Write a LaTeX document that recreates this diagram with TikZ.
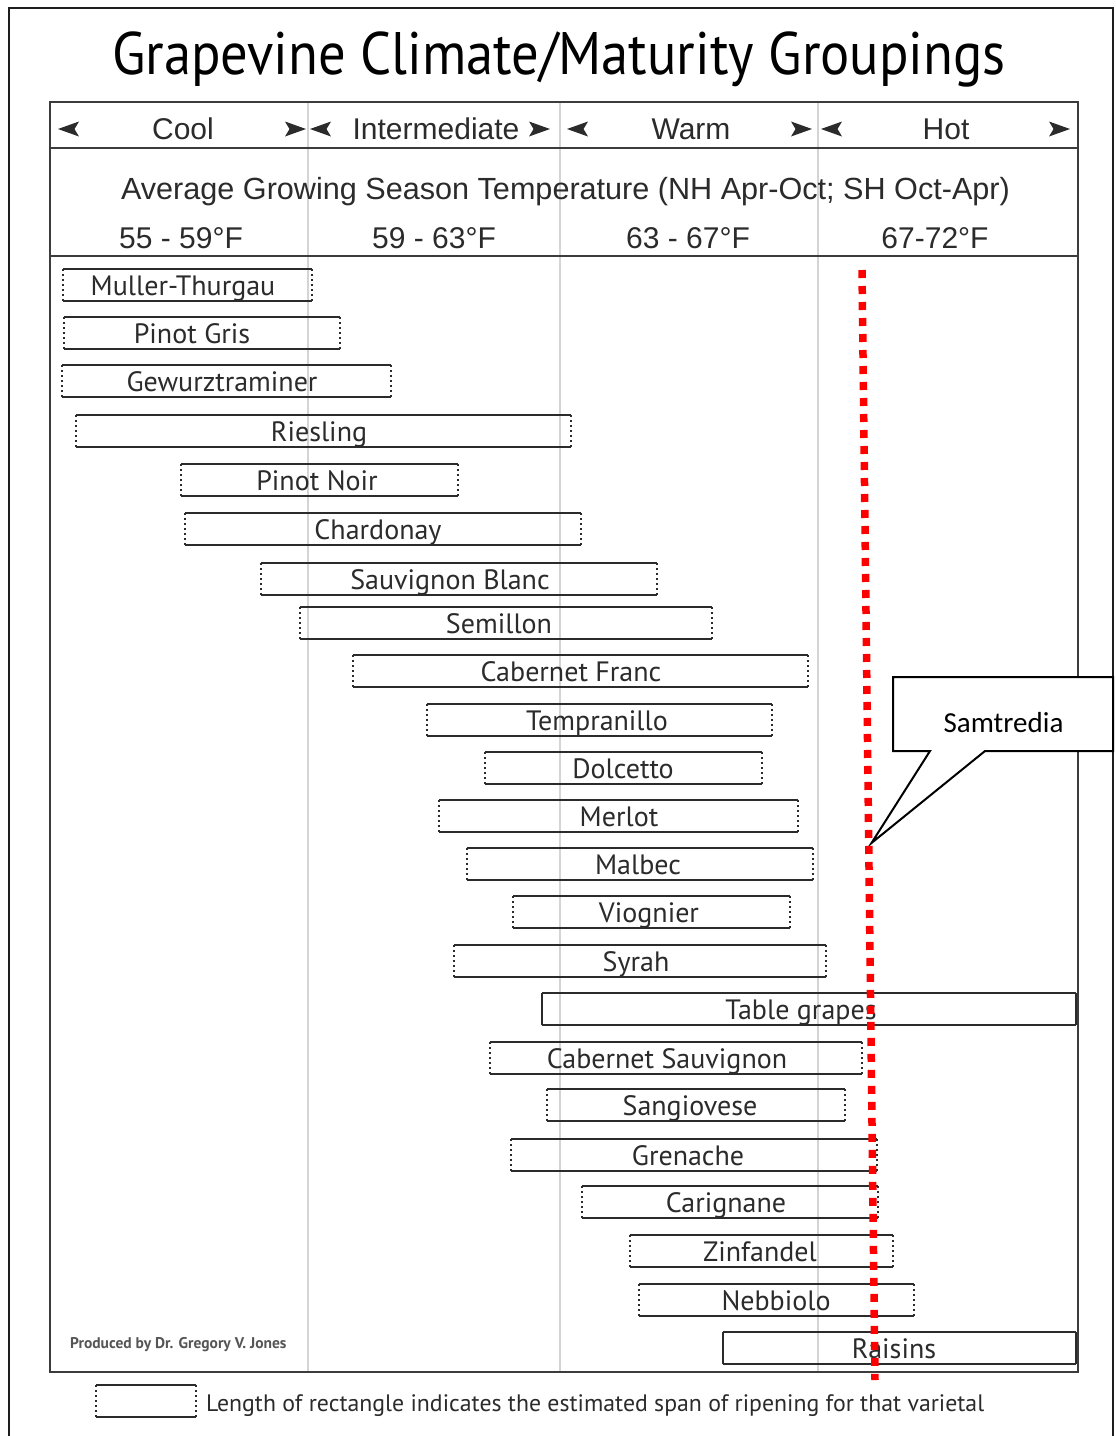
\documentclass[tikz,border=0pt]{standalone}
\usepackage{fontspec}
\setmainfont{PT Sans}
\newfontfamily\titlef[FakeStretch=0.91]{PT Sans}
\newfontfamily\arialf{Liberation Sans}
\newfontfamily\calibrif{Carlito}
\definecolor{ink}{HTML}{2B2B2B}
\definecolor{gridc}{HTML}{D4D4D4}
\definecolor{framec}{HTML}{3C3C3C}
\definecolor{outerc}{HTML}{1E1E1E}
\newcommand\grapebar[7]{%
  \node[barbox, minimum width={(#3)-(#2)}, anchor=north west] (#1) at (#2,#4) {};
  \node[bartext] (#1t) at (#5,#4+26) {#6};
  \draw[edgeline] (#1.north west) -- (#1.north east) (#1.south west) -- (#1.south east);
  \draw[#7] (#1.north west) -- (#1.south west) (#1.north east) -- (#1.south east);
}
\tikzset{
  barbox/.style={draw=none, rectangle, inner sep=0pt, outer sep=0pt, minimum height=32},
  bartext/.style={anchor=base, inner sep=0pt, font=\fontsize{28}{30}\selectfont, text=ink},
  edgeline/.style={draw=ink, line width=2},
  sidedot/.style={draw=ink, line width=2, dash pattern=on 2 off 3},
  headtext/.style={anchor=base, inner sep=0pt, font=\arialf\fontsize{30}{32}\selectfont, text=ink},
  gridline/.style={draw=gridc, line width=1.3},
  chartline/.style={draw=framec, line width=2.5},
  reddots/.style={draw=red, line width=7.5, dash pattern=on 8 off 8},
  rtip/.pic={\fill[ink] (0,0) -- (-21,-7.5) -- (-16.5,0) -- (-21,7.5) -- cycle;},
  ltip/.pic={\fill[ink] (0,0) -- (21,-7.5) -- (16.5,0) -- (21,7.5) -- cycle;},
}
\begin{document}
\begin{tikzpicture}[x=1pt,y=-1pt]
\useasboundingbox (0,0) rectangle (1116,1436);
\fill[white] (0,0) rectangle (1116,1436);
% outer frame
\draw[draw=outerc, line width=2.5] (9,1436) -- (9,8) -- (1113,8) -- (1113,1436);
% title
\node[anchor=base, inner sep=0pt, font=\titlef\fontsize{60}{64}\selectfont, text=black] (title) at (559,74) {Grapevine Climate/Maturity Groupings};
% grid
\foreach \gx in {308,560,818} \draw[gridline] (\gx,102) -- (\gx,1372);
% chart frame
\draw[chartline] (50,102) rectangle (1078,1372);
\draw[chartline] (50,148) -- (1078,148);
\draw[chartline] (50,256) -- (1078,256);
% header
\node[headtext] (cool) at (183,139) {Cool};
\node[headtext] (inter) at (436,139) {Intermediate};
\node[headtext] (warm) at (691,139) {Warm};
\node[headtext] (hot) at (946,139) {Hot};
\foreach \lx in {58,310,567,821} \pic at (\lx,129) {ltip};
\foreach \rx in {306,550,812,1070} \pic at (\rx,129) {rtip};
\node[headtext, font=\arialf\fontsize{30.6}{32}\selectfont] (avg) at (565.5,199) {Average Growing Season Temperature (NH Apr-Oct; SH Oct-Apr)};
\node[headtext] (t1) at (181,248) {55 - 59°F};
\node[headtext] (t2) at (434,248) {59 - 63°F};
\node[headtext] (t3) at (688,248) {63 - 67°F};
\node[headtext] (t4) at (935,248) {67-72°F};
% bars
\grapebar{mt}{63}{312}{269}{183}{Muller-Thurgau}{sidedot}
\grapebar{pg}{64}{340}{317}{192}{Pinot Gris}{sidedot}
\grapebar{gw}{62}{391}{365}{222}{Gewurztraminer}{sidedot}
\grapebar{rs}{76}{571}{415}{319}{Riesling}{sidedot}
\grapebar{pn}{181}{458}{464}{317}{Pinot Noir}{sidedot}
\grapebar{ch}{185}{581}{513}{378}{Chardonay}{sidedot}
\grapebar{sb}{261}{657}{563}{450}{Sauvignon Blanc}{sidedot}
\grapebar{se}{300}{712}{607}{499}{Semillon}{sidedot}
\grapebar{cf}{353}{808}{655}{571}{Cabernet Franc}{sidedot}
\grapebar{tp}{427}{772}{704}{597}{Tempranillo}{sidedot}
\grapebar{dc}{485}{762}{752}{623}{Dolcetto}{sidedot}
\grapebar{me}{439}{798}{800}{619}{Merlot}{sidedot}
\grapebar{mb}{467}{813}{848}{638}{Malbec}{sidedot}
\grapebar{vg}{513}{790}{896}{649}{Viognier}{sidedot}
\grapebar{sy}{454}{826}{945}{636}{Syrah}{sidedot}
\grapebar{tg}{542}{1076}{993}{801}{Table grapes}{edgeline}
\grapebar{cs}{490}{862}{1042}{667}{Cabernet Sauvignon}{sidedot}
\grapebar{sg}{547}{845}{1089}{690}{Sangiovese}{sidedot}
\grapebar{gr}{511}{877}{1139}{688}{Grenache}{sidedot}
\grapebar{cg}{582}{878}{1186}{726}{Carignane}{sidedot}
\grapebar{zf}{630}{893}{1235}{760}{Zinfandel}{sidedot}
\grapebar{nb}{639}{914}{1284}{776}{Nebbiolo}{sidedot}
\grapebar{ra}{723}{1076}{1332}{894}{Raisins}{edgeline}
% footer
\node[anchor=base west, inner sep=0pt, font=\bfseries\fontsize{15.5}{17}\selectfont, text=ink!80] (prod) at (70,1348) {Produced by Dr. Gregory V. Jones};
% legend
\node[barbox, minimum width=100, anchor=north west] (lg) at (96,1385) {};
\draw[edgeline] (lg.north west) -- (lg.north east) (lg.south west) -- (lg.south east);
\draw[sidedot] (lg.north west) -- (lg.south west) (lg.north east) -- (lg.south east);
\node[anchor=base west, inner sep=0pt, font=\fontsize{23.8}{26}\selectfont, text=ink] (lgt) at (206,1411) {Length of rectangle indicates the estimated span of ripening for that varietal};
% red line and callout
\coordinate (rtop) at (862,270);
\coordinate (rbot) at (875,1380);
\coordinate (tip) at (871.5,843);
\draw[black, line width=2, fill=white, line join=miter] (893,677) -- (1113,677) -- (1113,751) -- (985,751) -- (tip) -- (930,751) -- (893,751) -- cycle;
\node[anchor=base, inner sep=0pt, font=\calibrif\fontsize{29}{31}\selectfont, text=black] (samt) at (1003.5,732) {Samtredia};
\draw[reddots] (rtop) -- (rbot);
\end{tikzpicture}
\end{document}
